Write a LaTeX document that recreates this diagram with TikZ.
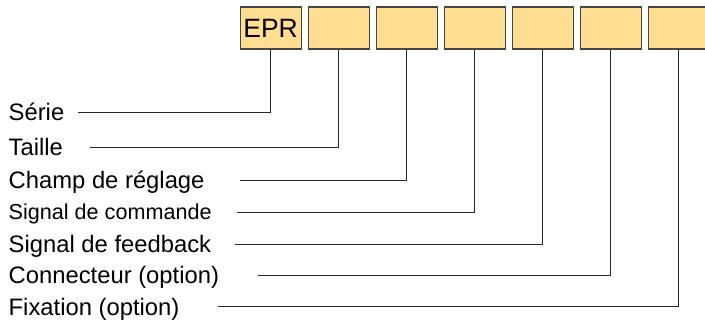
\documentclass[tikz,border=0pt]{standalone}
\usepackage{fontspec}
\setmainfont{Liberation Sans}
\definecolor{boxfill}{RGB}{255,222,145}
\definecolor{boxedge}{RGB}{70,70,70}
\begin{document}
\begin{tikzpicture}[x=1pt,y=-1pt,
  codebox/.style={draw=boxedge, line width=1.2pt, fill=boxfill, minimum width=61pt, minimum height=42pt, inner sep=0pt, anchor=north west},
  lbl/.style={anchor=base west, inner sep=0pt, font=\fontsize{23.8}{26}\selectfont},
  lblsmall/.style={anchor=base west, inner sep=0pt, font=\fontsize{21.6}{24}\selectfont},
  lead/.style={draw=black!85, line width=0.9pt}]
\useasboundingbox (0,0) rectangle (705,321);
\clip (0,0) rectangle (705,321);
% boxes
\node[codebox, font=\fontsize{26.5}{28}\selectfont] (b1) at (239.5,6.5) {EPR};
\node[codebox] (b2) at (307.5,6.5) {};
\node[codebox] (b3) at (375.5,6.5) {};
\node[codebox] (b4) at (443.5,6.5) {};
\node[codebox] (b5) at (511.5,6.5) {};
\node[codebox] (b6) at (579.5,6.5) {};
\node[codebox] (b7) at (647.5,6.5) {};
% labels
\node[lbl] (t1) at (8.5,121) {Série};
\node[lbl] (t2) at (8.5,155.5) {Taille};
\node[lbl] (t3) at (8.5,188.5) {Champ de réglage};
\node[lblsmall] (t4) at (8.5,219.5) {Signal de commande};
\node[lbl] (t5) at (8.5,252) {Signal de feedback};
\node[lbl] (t6) at (8.5,283) {Connecteur (option)};
\node[lbl] (t7) at (8.5,315) {Fixation (option)};
% line start coordinates
\coordinate (s1) at (78,112.5);
\coordinate (s2) at (90,147);
\coordinate (s3) at (240,180);
\coordinate (s4) at (237,212.5);
\coordinate (s5) at (235,244);
\coordinate (s6) at (258,275);
\coordinate (s7) at (218,306.5);
% leaders
\draw[lead] (s1) -| (b1.south);
\draw[lead] (s2) -| (b2.south);
\draw[lead] (s3) -| (b3.south);
\draw[lead] (s4) -| (b4.south);
\draw[lead] (s5) -| (b5.south);
\draw[lead] (s6) -| (b6.south);
\draw[lead] (s7) -| (b7.south);
\end{tikzpicture}
\end{document}
